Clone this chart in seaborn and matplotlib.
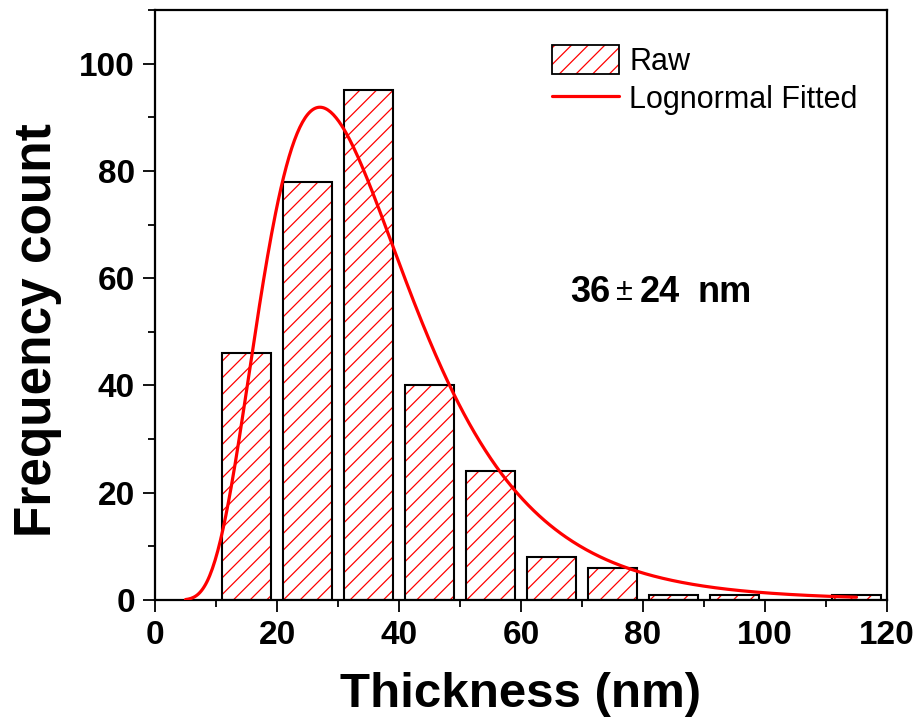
import numpy as np
import pandas as pd
import matplotlib
matplotlib.use("Agg")
import matplotlib.pyplot as plt
import matplotlib.patches as mpatches
from matplotlib.ticker import MultipleLocator
import seaborn as sns

# Histogram of thickness (bin centres, nm) and counts
bin_centers = [15, 25, 35, 45, 55, 65, 75, 85, 95, 115]
counts = [46, 78, 95, 40, 24, 8, 6, 1, 1, 1]

# Lognormal fit parameters (Origin style: A, xc, w)
fit_A = 3100
fit_xc = 33.1
fit_w = 0.45
fit_range = (5, 115)

df = pd.DataFrame({"thickness": bin_centers, "count": counts})

xs = np.linspace(fit_range[0], fit_range[1], 500)
ys = fit_A / (np.sqrt(2 * np.pi) * fit_w * xs) * np.exp(-np.log(xs / fit_xc) ** 2 / (2 * fit_w ** 2))
fit_df = pd.DataFrame({"x": xs, "y": ys})

sns.set_style("ticks")
plt.rcParams["font.family"] = ["Liberation Sans", "DejaVu Sans"]
plt.rcParams["hatch.linewidth"] = 0.9
for k in ["text.color", "axes.labelcolor", "xtick.color", "ytick.color", "axes.edgecolor"]:
    plt.rcParams[k] = "black"

fig = plt.figure(figsize=(9.2, 7.27), dpi=100)
ax = fig.add_axes([0.1685, 0.1747, 0.7956, 0.8115])

# hatched fill
sns.barplot(data=df, x="thickness", y="count", native_scale=True, orient="x",
            errorbar=None, width=0.8, color="white", ax=ax)
for p in ax.patches:
    p.set_facecolor("white")
    p.set_edgecolor("red")
    p.set_hatch("//")
    p.set_linewidth(0)

# black outlines
sns.barplot(data=df, x="thickness", y="count", native_scale=True, orient="x",
            errorbar=None, width=0.8, fill=False, color="black", linewidth=1.5, ax=ax)

sns.lineplot(data=fit_df, x="x", y="y", color="red", linewidth=2.3, ax=ax, zorder=5)

ax.set_xlim(0, 120)
ax.set_ylim(0, 110)
ax.xaxis.set_major_locator(MultipleLocator(20))
ax.xaxis.set_minor_locator(MultipleLocator(10))
ax.yaxis.set_major_locator(MultipleLocator(20))
ax.yaxis.set_minor_locator(MultipleLocator(10))
ax.set_yticks([0, 20, 40, 60, 80, 100])

ax.tick_params(which="major", direction="out", length=8.5, width=1.3, labelsize=24, pad=6,
               top=False, right=False, colors="black")
ax.tick_params(which="minor", direction="out", length=5, width=1.3, top=False, right=False)
for lab in ax.get_xticklabels() + ax.get_yticklabels():
    lab.set_fontweight("bold")
for s in ax.spines.values():
    s.set_linewidth(1.6)
    s.set_color("black")

ax.set_xlabel("Thickness (nm)", fontsize=35.5, fontweight="bold", labelpad=15)
ax.set_ylabel("Frequency count", fontsize=37, fontweight="bold", labelpad=12, y=0.4576)

ax.text(74.6, 57.4, "36", fontsize=26, fontweight="bold", ha="right", va="center")
ax.text(77.0, 57.4, "\u00b1", fontsize=22, ha="center", va="center")
ax.text(79.4, 57.4, "24", fontsize=26, fontweight="bold", ha="left", va="center")
ax.text(89.0, 57.4, "nm", fontsize=26, fontweight="bold", ha="left", va="center")

raw_fill = mpatches.Patch(facecolor="white", edgecolor="red", hatch="//", linewidth=0)
raw_edge = mpatches.Patch(facecolor="none", edgecolor="black", linewidth=1.3)
fit_line = plt.Line2D([], [], color="red", linewidth=2.3)
leg = ax.legend([(raw_fill, raw_edge), fit_line], ["Raw", "Lognormal Fitted"],
                loc="upper left", bbox_to_anchor=(552 / 920, 1 - 45 / 727),
                bbox_transform=fig.transFigure, frameon=False, fontsize=22,
                handlelength=2.2, handleheight=1.08, handletextpad=0.33,
                labelspacing=0.22, borderpad=0, borderaxespad=0)

fig.savefig("out.png", dpi=100)
